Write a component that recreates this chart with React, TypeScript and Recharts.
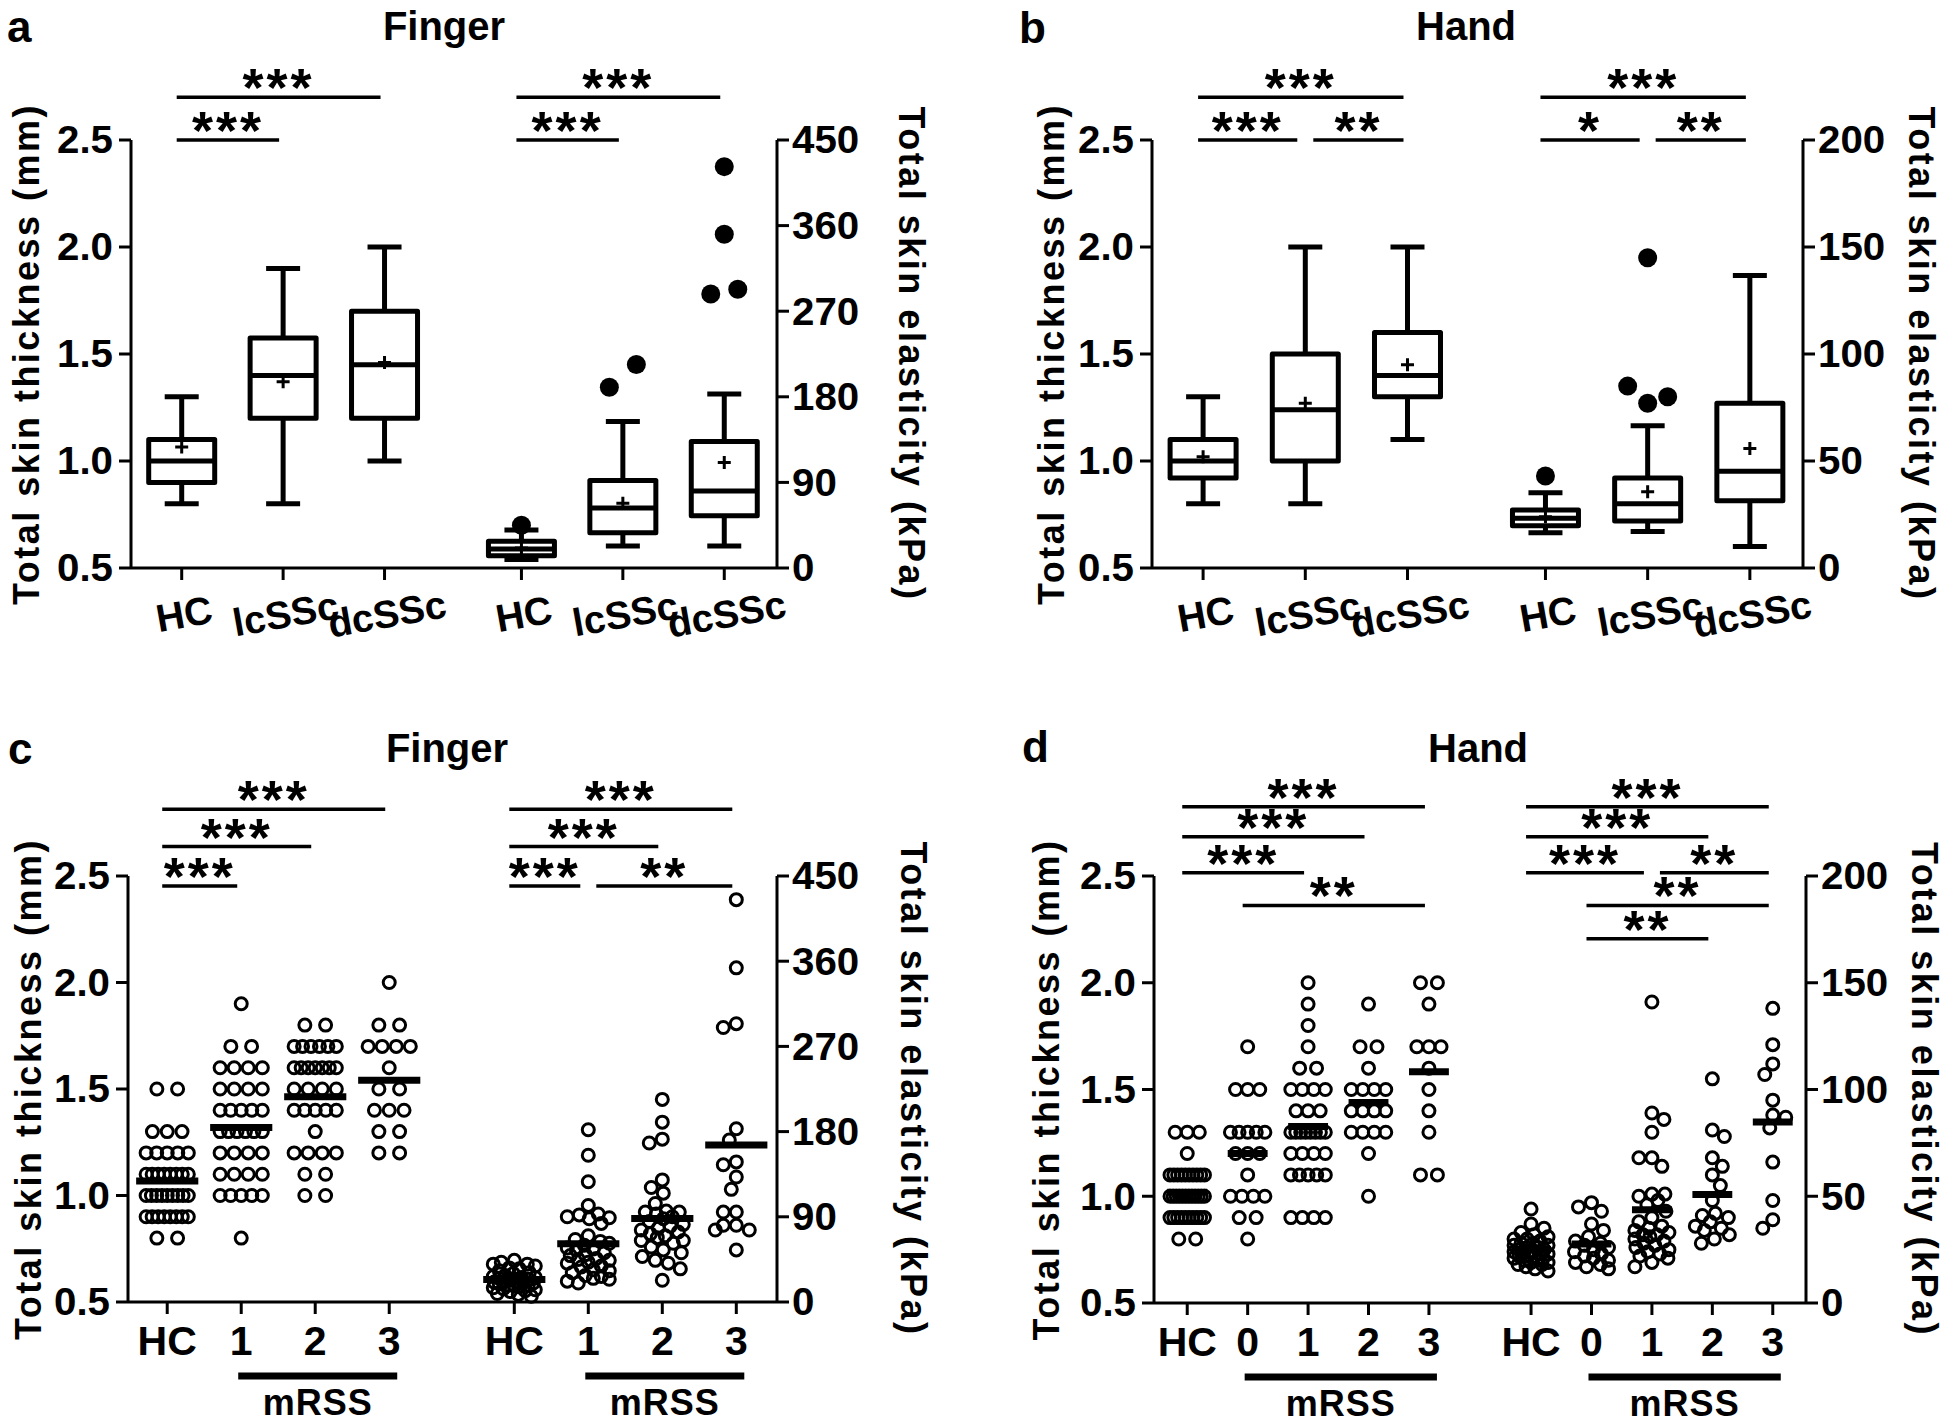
import React from 'react';
import { ComposedChart, Scatter, XAxis, YAxis, ReferenceLine, ReferenceArea } from 'recharts';

const FONT = '"Liberation Sans", Arial, Helvetica, sans-serif';

// ---------------- categories and tick labels ----------------
const BOX_GROUP_LABELS = ['HC', 'lcSSc', 'dcSSc'];
const FINGER_MRSS_LABELS = ['HC', '1', '2', '3'];
const HAND_MRSS_LABELS = ['HC', '0', '1', '2', '3'];
const THICKNESS_TICKS = [0.5, 1.0, 1.5, 2.0, 2.5];
const FINGER_ELASTICITY_TICKS = [0, 90, 180, 270, 360, 450];
const HAND_ELASTICITY_TICKS = [0, 50, 100, 150, 200];

// ---------------- panel a: finger, box plots ----------------
const fingerThicknessBoxes = [
  { min: 0.8, q1: 0.9, median: 1.0, q3: 1.1, max: 1.3, mean: 1.065 },
  { min: 0.8, q1: 1.2, median: 1.4, q3: 1.575, max: 1.9, mean: 1.37 },
  { min: 1.0, q1: 1.2, median: 1.45, q3: 1.7, max: 2.0, mean: 1.46 },
];
const fingerElasticityBoxes = [
  { min: 9, q1: 13, median: 20, q3: 28, max: 40, mean: 21 },
  { min: 23, q1: 37, median: 63, q3: 92, max: 154, mean: 68 },
  { min: 23, q1: 55, median: 81, q3: 133, max: 183, mean: 111 },
];
const fingerElasticityOutliers = [
  { group: 0, value: 45 },
  { group: 1, value: 190 },
  { group: 1, value: 214 },
  { group: 2, value: 422 },
  { group: 2, value: 351 },
  { group: 2, value: 288 },
  { group: 2, value: 293 },
];
const fingerBoxSignificance = [
  { from: 0, to: 1, row: 0, label: '***' },
  { from: 0, to: 2, row: 1, label: '***' },
  { from: 3, to: 4, row: 0, label: '***' },
  { from: 3, to: 5, row: 1, label: '***' },
];

// ---------------- panel b: hand, box plots ----------------
const handThicknessBoxes = [
  { min: 0.8, q1: 0.92, median: 1.0, q3: 1.1, max: 1.3, mean: 1.02 },
  { min: 0.8, q1: 1.0, median: 1.24, q3: 1.5, max: 2.0, mean: 1.27 },
  { min: 1.1, q1: 1.3, median: 1.4, q3: 1.6, max: 2.0, mean: 1.45 },
];
const handElasticityBoxes = [
  { min: 16.5, q1: 19.7, median: 23.3, q3: 27.1, max: 35.2, mean: 24 },
  { min: 17, q1: 22, median: 30, q3: 42, max: 66.5, mean: 35.6 },
  { min: 10, q1: 31.4, median: 45.2, q3: 77, max: 136.7, mean: 55.8 },
];
const handElasticityOutliers = [
  { group: 0, value: 43 },
  { group: 1, value: 85 },
  { group: 1, value: 77 },
  { group: 1, value: 80 },
  { group: 1, value: 145 },
];
const handBoxSignificance = [
  { from: 0, to: 1, row: 0, label: '***' },
  { from: 1, to: 2, row: 0, label: '**' },
  { from: 0, to: 2, row: 1, label: '***' },
  { from: 3, to: 4, row: 0, label: '*' },
  { from: 4, to: 5, row: 0, label: '**' },
  { from: 3, to: 5, row: 1, label: '***' },
];

// ---------------- panel c: finger by mRSS ----------------
const fingerThicknessByScore = [
  [1.5, 1.5, 1.3, 1.3, 1.3, 1.2, 1.2, 1.2, 1.2, 1.2, 1.1, 1.1, 1.1, 1.1, 1.1, 1.1, 1.1, 1.1,
    1.0, 1.0, 1.0, 1.0, 1.0, 1.0, 1.0, 1.0, 1.0, 0.9, 0.9, 0.9, 0.9, 0.9, 0.9, 0.9, 0.9, 0.8, 0.8],
  [1.9, 1.7, 1.7, 1.6, 1.6, 1.6, 1.6, 1.5, 1.5, 1.5, 1.5, 1.4, 1.4, 1.4, 1.4, 1.4,
    1.3, 1.3, 1.3, 1.3, 1.3, 1.3, 1.2, 1.2, 1.2, 1.2, 1.1, 1.1, 1.1, 1.1, 1.0, 1.0, 1.0, 1.0, 1.0, 0.8],
  [1.8, 1.8, 1.7, 1.7, 1.7, 1.7, 1.7, 1.7, 1.6, 1.6, 1.6, 1.6, 1.6, 1.6, 1.6, 1.5, 1.5, 1.5, 1.5,
    1.4, 1.4, 1.4, 1.4, 1.4, 1.3, 1.2, 1.2, 1.2, 1.2, 1.1, 1.1, 1.0, 1.0],
  [2.0, 1.8, 1.8, 1.7, 1.7, 1.7, 1.7, 1.6, 1.5, 1.5, 1.4, 1.4, 1.4, 1.3, 1.3, 1.2, 1.2],
];
const fingerElasticityByScore = [
  [44, 42, 40, 40, 38, 36, 35, 33, 31, 30, 28, 27, 26, 26, 25, 24, 23, 22, 22, 21, 20, 20, 19, 18,
    18, 17, 16, 15, 14, 13, 12, 11, 9, 8, 6],
  [182, 155, 127, 102, 93, 92, 90, 89, 88, 83, 70, 66, 64, 62, 60, 57, 56, 55, 52, 50, 49, 46, 45,
    44, 42, 41, 38, 37, 34, 33, 31, 28, 27, 25, 24, 22, 20],
  [214, 190, 172, 168, 129, 121, 115, 104, 96, 95, 95, 93, 90, 88, 85, 82, 80, 78, 76, 74, 72, 70,
    68, 65, 65, 62, 58, 55, 52, 48, 44, 41, 35, 23],
  [425, 353, 294, 290, 183, 171, 148, 145, 132, 119, 95, 95, 81, 81, 76, 76, 55],
];
const fingerScoreSignificance = [
  { from: 0, to: 1, row: 0, label: '***' },
  { from: 0, to: 2, row: 1, label: '***' },
  { from: 0, to: 3, row: 2, label: '***' },
  { from: 4, to: 5, row: 0, label: '***' },
  { from: 5, to: 7, row: 0, label: '**' },
  { from: 4, to: 6, row: 1, label: '***' },
  { from: 4, to: 7, row: 2, label: '***' },
];

// ---------------- panel d: hand by mRSS ----------------
const handThicknessByScore = [
  [1.3, 1.3, 1.3, 1.2, 1.1, 1.1, 1.1, 1.1, 1.1, 1.1, 1.1, 1.1, 1.1, 1.1,
    1.0, 1.0, 1.0, 1.0, 1.0, 1.0, 1.0, 1.0, 1.0, 1.0, 1.0, 1.0,
    0.9, 0.9, 0.9, 0.9, 0.9, 0.9, 0.9, 0.9, 0.9, 0.9, 0.8, 0.8],
  [1.7, 1.5, 1.5, 1.5, 1.3, 1.3, 1.3, 1.3, 1.3, 1.2, 1.2, 1.2, 1.1, 1.0, 1.0, 1.0, 1.0, 0.9, 0.9, 0.8],
  [2.0, 1.9, 1.8, 1.7, 1.6, 1.6, 1.5, 1.5, 1.5, 1.5, 1.4, 1.4, 1.4, 1.3, 1.3, 1.3, 1.3, 1.3, 1.3,
    1.3, 1.3, 1.2, 1.2, 1.2, 1.2, 1.1, 1.1, 1.1, 1.1, 1.1, 0.9, 0.9, 0.9, 0.9],
  [1.9, 1.7, 1.7, 1.6, 1.5, 1.5, 1.5, 1.5, 1.4, 1.4, 1.4, 1.4, 1.3, 1.3, 1.3, 1.3, 1.2, 1.0],
  [2.0, 2.0, 1.9, 1.7, 1.7, 1.7, 1.6, 1.5, 1.4, 1.3, 1.1, 1.1],
];
const handElasticityByScore = [
  [44, 37, 35, 33, 32, 31, 30, 30, 29, 28, 28, 27, 27, 26, 26, 25, 25, 24, 24, 24, 23, 23, 22, 22,
    22, 21, 21, 20, 20, 19, 19, 18, 18, 17, 16, 15],
  [47, 45, 43, 37, 34, 31, 29, 28, 27, 26, 25, 24, 23, 22, 21, 20, 19, 18, 17, 16],
  [141, 89, 86, 80, 68, 68, 64, 51, 51, 50, 48, 46, 43, 40, 38, 36, 35, 34, 33, 32, 32, 31, 30, 29,
    28, 27, 26, 25, 24, 23, 22, 21, 19, 17],
  [105, 81, 78, 68, 64, 60, 55, 48, 42, 41, 40, 38, 36, 35, 34, 32, 30, 28],
  [138, 121, 112, 107, 95, 88, 87, 82, 66, 48, 39, 35],
];
const handScoreSignificance = [
  { from: 0, to: 2, row: 2, label: '***' },
  { from: 0, to: 3, row: 3, label: '***' },
  { from: 0, to: 4, row: 4, label: '***' },
  { from: 1, to: 4, row: 1, label: '**' },
  { from: 5, to: 9, row: 4, label: '***' },
  { from: 5, to: 8, row: 3, label: '***' },
  { from: 5, to: 7, row: 2, label: '***' },
  { from: 7, to: 9, row: 2, label: '**' },
  { from: 6, to: 9, row: 1, label: '**' },
  { from: 6, to: 8, row: 0, label: '**' },
];

// ---------------- layout (page coordinates of each plot area) ----------------
const CHART_W = 973;
const CHART_H = 712;
const YW = 60;
const XH = 60;

const PANEL_A = { left: 0, top: 0, plot: { l: 131, r: 777, t: 140, b: 568 }, xDomain: [-0.5, 5.87], gap: 0.35, leftTitleX: 26, rightTitleX: 912, sigRows: [2.5, 2.7] };
const PANEL_B = { left: 973, top: 0, plot: { l: 1152, r: 1803, t: 140, b: 568 }, xDomain: [-0.5, 5.87], gap: 0.35, leftTitleX: 1051, rightTitleX: 1922, sigRows: [2.5, 2.7] };
const PANEL_C = { left: 0, top: 712, plot: { l: 128, r: 777, t: 876, b: 1302 }, xDomain: [-0.53, 8.24], gap: 0.69, leftTitleX: 28, rightTitleX: 914, sigRows: [2.453, 2.638, 2.813], meanHalf: 0.42 };
const PANEL_D = { left: 973, top: 712, plot: { l: 1154, r: 1806, t: 876, b: 1303 }, xDomain: [-0.55, 10.24], gap: 0.69, leftTitleX: 1046, rightTitleX: 1925, sigRows: [2.206, 2.362, 2.515, 2.684, 2.824], meanHalf: 0.33 };

const CSS = `
.ytick { font-size: 38px; font-weight: 700; fill: #000; }
.xtick-rot { font-size: 39px; font-weight: 700; fill: #000; }
.xtick { font-size: 41px; font-weight: 700; fill: #000; }
.axis-title { font-size: 36px !important; font-weight: 700; letter-spacing: 2.5px; fill: #000 !important; }
.sig-star { font-size: 54px !important; font-weight: 700; letter-spacing: 3px; fill: #000 !important; }
.mrss { font-size: 36px !important; font-weight: 700; letter-spacing: 1px; fill: #000 !important; }
.panel-letter { font-size: 44px; font-weight: 700; fill: #000; }
.panel-title { font-size: 40px; font-weight: 700; fill: #000; }
`;

const AXIS_STYLE = { stroke: '#000', strokeWidth: 3 };

function geometry(L: any, nPerGroup: number) {
  const positions: number[] = [];
  for (let i = 0; i < nPerGroup * 2; i++) positions.push(i + (i >= nPerGroup ? L.gap : 0));
  const plotW = L.plot.r - L.plot.l;
  const plotH = L.plot.b - L.plot.t;
  const pxPerUnit = plotW / (L.xDomain[1] - L.xDomain[0]);
  const pxPerMM = plotH / 2;
  const margin = {
    top: L.plot.t - L.top,
    left: L.plot.l - L.left - YW,
    right: L.left + CHART_W - L.plot.r - YW,
    bottom: L.top + CHART_H - L.plot.b - XH,
  };
  return { positions, pxPerUnit, pxPerMM, plotH, margin };
}

// ---------------- point layout helpers ----------------
function rowSpread(values: number[], pxPerValue: number, thresholdPx: number, spacing: (n: number) => number) {
  const order = values.map((_, i) => i).sort((a, b) => values[b] - values[a] || a - b);
  const out = new Array(values.length).fill(0);
  let cluster: number[] = [];
  const flush = () => {
    const members = [...cluster].sort((a, b) => a - b);
    const n = members.length;
    const s = n > 1 ? spacing(n) : 0;
    members.forEach((idx, k) => { out[idx] = (k - (n - 1) / 2) * s; });
    cluster = [];
  };
  order.forEach((idx) => {
    if (cluster.length) {
      const prev = cluster[cluster.length - 1];
      if (Math.abs(values[prev] - values[idx]) * pxPerValue > thresholdPx) flush();
    }
    cluster.push(idx);
  });
  if (cluster.length) flush();
  return out;
}

function swarmSpread(values: number[], pxPerValue: number, pxPerUnit: number, diameter: number, maxHalfUnits: number) {
  const order = values.map((_, i) => i).sort((a, b) => values[b] - values[a]);
  const placed: { x: number; y: number }[] = [];
  const out = new Array(values.length).fill(0);
  const maxHalf = maxHalfUnits * pxPerUnit;
  order.forEach((idx, k) => {
    const y = values[idx] * pxPerValue;
    const sign = k % 2 === 0 ? 1 : -1;
    const cands: number[] = [0];
    for (let s = 1; s <= maxHalf; s += 1) cands.push(sign * s, -sign * s);
    let best = 0;
    let bestScore = -Infinity;
    for (const c of cands) {
      let minD = Infinity;
      for (const p of placed) {
        const d = Math.hypot(p.x - c, p.y - y);
        if (d < minD) minD = d;
      }
      if (minD >= diameter) { best = c; break; }
      if (minD > bestScore + 0.01) { bestScore = minD; best = c; }
    }
    placed.push({ x: best, y });
    out[idx] = best / pxPerUnit;
  });
  return out;
}

const mean = (arr: number[]) => arr.reduce((s, v) => s + v, 0) / arr.length;

// ---------------- shapes ----------------
const openCircle = (p: any) => <circle cx={p.cx} cy={p.cy} r={6} fill="none" stroke="#000" strokeWidth={3} />;
const filledDot = (p: any) => <circle cx={p.cx} cy={p.cy} r={9.5} fill="#000" />;
const plusMark = (p: any) => (
  <path d={`M${p.cx - 6.5},${p.cy}H${p.cx + 6.5}M${p.cx},${p.cy - 6.5}V${p.cy + 6.5}`} stroke="#000" strokeWidth={3} fill="none" />
);

// ---------------- ticks ----------------
function XTick(props: any) {
  const { x, y, payload, labels, positions, rotate } = props;
  const idx = positions.findIndex((p: number) => Math.abs(p - payload.value) < 1e-6);
  const text = idx >= 0 ? labels[idx] : '';
  if (rotate) {
    return (
      <g transform={`translate(${x},${y}) rotate(-10)`}>
        <text x={0} y={0} dy="0.71em" textAnchor="middle" className="xtick-rot">{text}</text>
      </g>
    );
  }
  return <text x={x} y={y} dy="0.71em" textAnchor="middle" className="xtick">{text}</text>;
}

function YTick(props: any) {
  const { x, y, payload, textAnchor, decimals } = props;
  const text = decimals ? Number(payload.value).toFixed(decimals) : String(payload.value);
  return (
    <g transform={`translate(${x},${y}) scale(1.06,1)`}>
      <text x={0} y={0} dy="0.355em" textAnchor={textAnchor} className="ytick">{text}</text>
    </g>
  );
}

function axes(L: any, g: any, labels: string[], rotate: boolean, kpaDomain: number[], kpaTicks: number[]) {
  return [
    <XAxis
      key="x"
      type="number"
      dataKey="x"
      domain={L.xDomain}
      ticks={g.positions}
      interval={0}
      height={XH}
      tickSize={12}
      tickMargin={rotate ? 20 : 12}
      axisLine={AXIS_STYLE}
      tickLine={AXIS_STYLE}
      tick={<XTick labels={labels} positions={g.positions} rotate={rotate} />}
    />,
    <YAxis
      key="ym"
      yAxisId="mm"
      orientation="left"
      type="number"
      dataKey="y"
      domain={[0.5, 2.5]}
      ticks={THICKNESS_TICKS}
      interval={0}
      width={YW}
      tickSize={12}
      tickMargin={6}
      axisLine={AXIS_STYLE}
      tickLine={AXIS_STYLE}
      tick={<YTick decimals={1} />}
      label={{ value: 'Total skin thickness (mm)', angle: -90, position: 'center', dx: L.leftTitleX - (L.plot.l - YW / 2), className: 'axis-title' }}
    />,
    <YAxis
      key="yk"
      yAxisId="kpa"
      orientation="right"
      type="number"
      dataKey="y"
      domain={kpaDomain}
      ticks={kpaTicks}
      interval={0}
      width={YW}
      tickSize={12}
      tickMargin={3}
      axisLine={AXIS_STYLE}
      tickLine={AXIS_STYLE}
      tick={<YTick decimals={0} />}
      label={{ value: 'Total skin elasticity (kPa)', angle: 90, position: 'center', dx: L.rightTitleX - (L.plot.r + YW / 2), className: 'axis-title' }}
    />,
  ];
}

function significance(sig: any[], L: any, g: any, prefix: string) {
  return sig.map((s, i) => {
    const abutStart = sig.some((o) => o !== s && o.row === s.row && o.to === s.from);
    const abutEnd = sig.some((o) => o !== s && o.row === s.row && o.from === s.to);
    const x1 = g.positions[s.from] + (abutStart ? 8 : -5) / g.pxPerUnit;
    const x2 = g.positions[s.to] + (abutEnd ? -8 : -4) / g.pxPerUnit;
    const y = L.sigRows[s.row];
    return (
      <ReferenceLine
        key={`${prefix}-sig-${i}`}
        yAxisId="mm"
        segment={[{ x: x1, y }, { x: x2, y }]}
        stroke="#000"
        strokeWidth={3.5}
        ifOverflow="visible"
        label={{ value: s.label, position: 'top', offset: -9, className: 'sig-star' }}
      />
    );
  });
}

function boxElements(boxes: any[], positions: number[], yAxisId: string, pxPerUnit: number, prefix: string) {
  const halfW = 33 / pxPerUnit;
  const capHalf = 17 / pxPerUnit;
  const els: any[] = [];
  boxes.forEach((b, i) => {
    const x = positions[i];
    const common = { yAxisId, stroke: '#000', strokeWidth: 5, ifOverflow: 'visible' as const };
    els.push(<ReferenceLine key={`${prefix}-wlo-${i}`} {...common} segment={[{ x, y: b.min }, { x, y: b.q1 }]} />);
    els.push(<ReferenceLine key={`${prefix}-whi-${i}`} {...common} segment={[{ x, y: b.q3 }, { x, y: b.max }]} />);
    els.push(<ReferenceLine key={`${prefix}-clo-${i}`} {...common} segment={[{ x: x - capHalf, y: b.min }, { x: x + capHalf, y: b.min }]} />);
    els.push(<ReferenceLine key={`${prefix}-chi-${i}`} {...common} segment={[{ x: x - capHalf, y: b.max }, { x: x + capHalf, y: b.max }]} />);
    els.push(
      <ReferenceArea
        key={`${prefix}-box-${i}`}
        yAxisId={yAxisId}
        x1={x - halfW}
        x2={x + halfW}
        y1={b.q1}
        y2={b.q3}
        fill="none"
        fillOpacity={0}
        stroke="#000"
        strokeWidth={5}
        strokeLinejoin="round"
        ifOverflow="visible"
      />
    );
    els.push(<ReferenceLine key={`${prefix}-med-${i}`} {...common} segment={[{ x: x - halfW, y: b.median }, { x: x + halfW, y: b.median }]} />);
  });
  return els;
}

function BoxChart(props: any) {
  const { L, mmBoxes, kpaBoxes, outliers, kpaDomain, kpaTicks, sig } = props;
  const g = geometry(L, 3);
  const pxPerKpa = g.plotH / (kpaDomain[1] - kpaDomain[0]);
  const groupOffset = mmBoxes.length;
  const kpaPositions = g.positions.slice(groupOffset);
  const meanMM = mmBoxes.map((b: any, i: number) => ({ x: g.positions[i], y: b.mean }));
  const meanKpa = kpaBoxes.map((b: any, i: number) => ({ x: kpaPositions[i], y: b.mean }));
  const outlierPts: any[] = [];
  [0, 1, 2].forEach((grp) => {
    const vals = outliers.filter((o: any) => o.group === grp).map((o: any) => o.value);
    const offs = rowSpread(vals, pxPerKpa, 30, (n) => Math.min(27, 40 / (n - 1)) / g.pxPerUnit);
    vals.forEach((v: number, k: number) => outlierPts.push({ x: kpaPositions[grp] + offs[k], y: v }));
  });
  return (
    <div style={{ position: 'absolute', left: L.left, top: L.top }}>
      <ComposedChart width={CHART_W} height={CHART_H} margin={g.margin}>
        {axes(L, g, [...BOX_GROUP_LABELS, ...BOX_GROUP_LABELS], true, kpaDomain, kpaTicks)}
        {boxElements(mmBoxes, g.positions, 'mm', g.pxPerUnit, 'mm')}
        {boxElements(kpaBoxes, kpaPositions, 'kpa', g.pxPerUnit, 'kpa')}
        <Scatter yAxisId="mm" data={meanMM} shape={plusMark} isAnimationActive={false} />
        <Scatter yAxisId="kpa" data={meanKpa} shape={plusMark} isAnimationActive={false} />
        <Scatter yAxisId="kpa" data={outlierPts} shape={filledDot} isAnimationActive={false} />
        {significance(sig, L, g, 'box')}
      </ComposedChart>
    </div>
  );
}

function DotChart(props: any) {
  const { L, labels, mmGroups, kpaGroups, kpaDomain, kpaTicks, sig } = props;
  const n = labels.length;
  const g = geometry(L, n);
  const pxPerKpa = g.plotH / (kpaDomain[1] - kpaDomain[0]);
  const mmPts: any[] = [];
  const kpaPts: any[] = [];
  mmGroups.forEach((vals: number[], gi: number) => {
    const offs = rowSpread(vals, g.pxPerMM, 0.5, (m) => Math.min(m === 2 ? 0.28 : 0.2, 0.57 / (m - 1)));
    vals.forEach((v, k) => mmPts.push({ x: g.positions[gi] + offs[k], y: v }));
  });
  kpaGroups.forEach((vals: number[], gi: number) => {
    const offs = swarmSpread(vals, pxPerKpa, g.pxPerUnit, 13, 0.29);
    vals.forEach((v, k) => kpaPts.push({ x: g.positions[n + gi] + offs[k], y: v }));
  });
  const meanBars: any[] = [];
  mmGroups.forEach((vals: number[], gi: number) => {
    const m = mean(vals);
    const x = g.positions[gi];
    meanBars.push(
      <ReferenceLine key={`mm-mean-${gi}`} yAxisId="mm" segment={[{ x: x - L.meanHalf, y: m }, { x: x + L.meanHalf, y: m }]} stroke="#000" strokeWidth={7} ifOverflow="visible" />
    );
  });
  kpaGroups.forEach((vals: number[], gi: number) => {
    const m = mean(vals);
    const x = g.positions[n + gi];
    meanBars.push(
      <ReferenceLine key={`kpa-mean-${gi}`} yAxisId="kpa" segment={[{ x: x - L.meanHalf, y: m }, { x: x + L.meanHalf, y: m }]} stroke="#000" strokeWidth={7} ifOverflow="visible" />
    );
  });
  const barY = 0.5 - 74 / g.pxPerMM;
  const scoreBars = [0, 1].map((grp) => {
    const first = g.positions[grp * n + 1] - 3 / g.pxPerUnit;
    const last = g.positions[grp * n + n - 1] + 8 / g.pxPerUnit;
    return (
      <ReferenceLine
        key={`mrss-${grp}`}
        yAxisId="mm"
        segment={[{ x: first, y: barY }, { x: last, y: barY }]}
        stroke="#000"
        strokeWidth={7}
        ifOverflow="visible"
        label={{ value: 'mRSS', position: 'bottom', offset: 13, className: 'mrss' }}
      />
    );
  });
  return (
    <div style={{ position: 'absolute', left: L.left, top: L.top }}>
      <ComposedChart width={CHART_W} height={CHART_H} margin={g.margin}>
        {axes(L, g, [...labels, ...labels], false, kpaDomain, kpaTicks)}
        <Scatter yAxisId="mm" data={mmPts} shape={openCircle} isAnimationActive={false} />
        <Scatter yAxisId="kpa" data={kpaPts} shape={openCircle} isAnimationActive={false} />
        {meanBars}
        {scoreBars}
        {significance(sig, L, g, 'dot')}
      </ComposedChart>
    </div>
  );
}

export default function App() {
  return (
    <div style={{ position: 'absolute', left: 0, top: 0, width: 1946, height: 1424, background: '#fff', fontFamily: FONT, overflow: 'hidden' }}>
      <style>{CSS}</style>
      <BoxChart L={PANEL_A} mmBoxes={fingerThicknessBoxes} kpaBoxes={fingerElasticityBoxes} outliers={fingerElasticityOutliers} kpaDomain={[0, 450]} kpaTicks={FINGER_ELASTICITY_TICKS} sig={fingerBoxSignificance} />
      <BoxChart L={PANEL_B} mmBoxes={handThicknessBoxes} kpaBoxes={handElasticityBoxes} outliers={handElasticityOutliers} kpaDomain={[0, 200]} kpaTicks={HAND_ELASTICITY_TICKS} sig={handBoxSignificance} />
      <DotChart L={PANEL_C} labels={FINGER_MRSS_LABELS} mmGroups={fingerThicknessByScore} kpaGroups={fingerElasticityByScore} kpaDomain={[0, 450]} kpaTicks={FINGER_ELASTICITY_TICKS} sig={fingerScoreSignificance} />
      <DotChart L={PANEL_D} labels={HAND_MRSS_LABELS} mmGroups={handThicknessByScore} kpaGroups={handElasticityByScore} kpaDomain={[0, 200]} kpaTicks={HAND_ELASTICITY_TICKS} sig={handScoreSignificance} />
      <svg width={1946} height={1424} style={{ position: 'absolute', left: 0, top: 0, pointerEvents: 'none' }}>
        <text x={7} y={42} className="panel-letter">a</text>
        <text x={444} y={40} textAnchor="middle" className="panel-title">Finger</text>
        <text x={1019} y={43} className="panel-letter">b</text>
        <text x={1466} y={40} textAnchor="middle" className="panel-title">Hand</text>
        <text x={8} y={764} className="panel-letter">c</text>
        <text x={447} y={762} textAnchor="middle" className="panel-title">Finger</text>
        <text x={1022} y={762} className="panel-letter">d</text>
        <text x={1478} y={762} textAnchor="middle" className="panel-title">Hand</text>
      </svg>
    </div>
  );
}
